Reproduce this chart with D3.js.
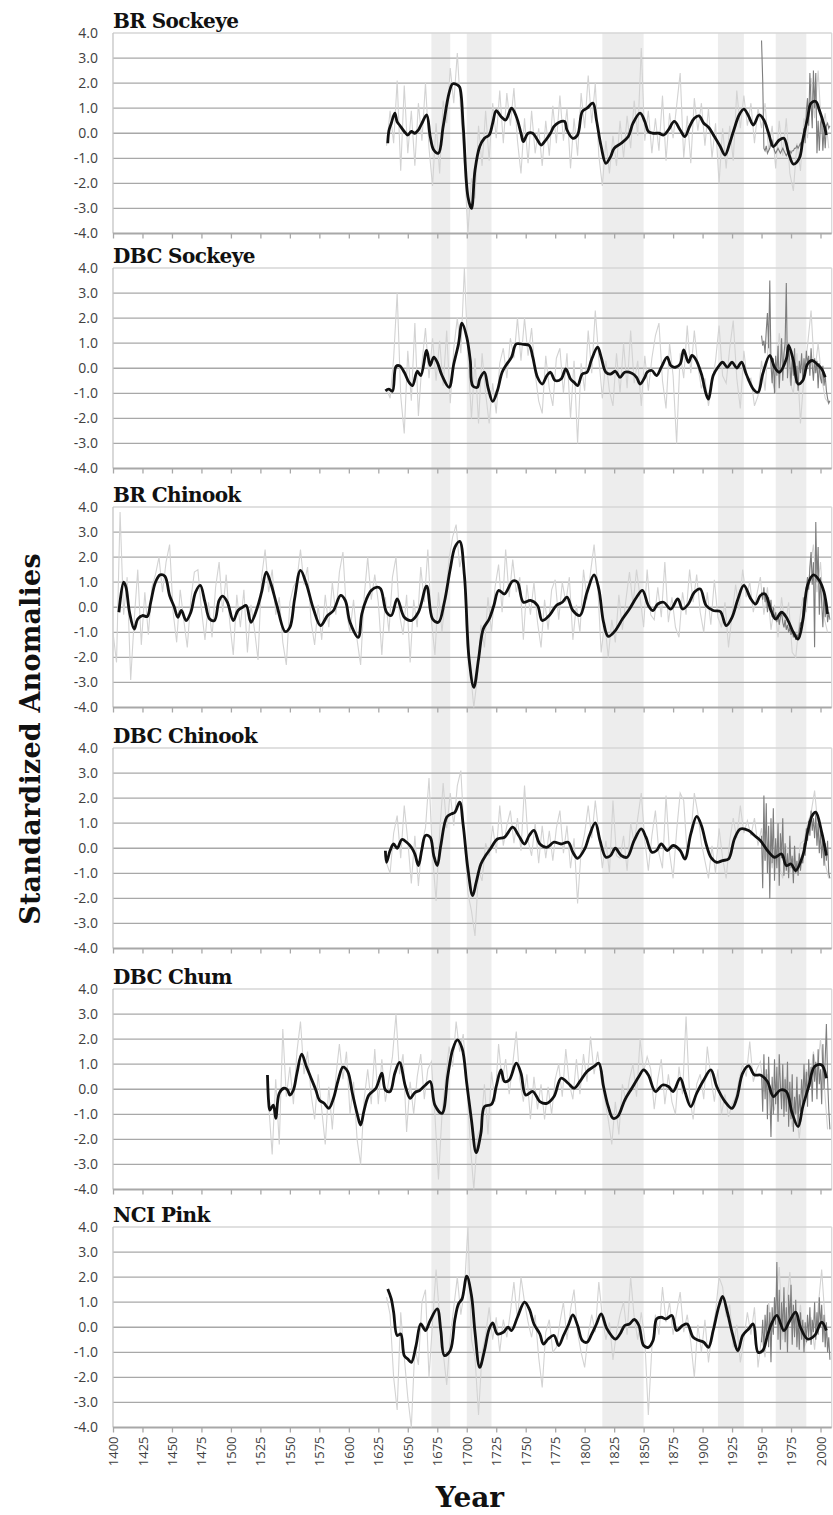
<!DOCTYPE html>
<html><head><meta charset="utf-8">
<script src="https://cdn.jsdelivr.net/npm/d3@7"></script>
<style>body{margin:0;background:#fff}svg{display:block}</style>
</head><body><svg id="c" width="833" height="1515"></svg>
<script>
// ---------- DATA ----------
const panelTitles = ["BR Sockeye","DBC Sockeye","BR Chinook","DBC Chinook","DBC Chum","NCI Pink"];
const yTicks = [4,3,2,1,0,-1,-2,-3,-4];
const xTicks = [1400,1425,1450,1475,1500,1525,1550,1575,1600,1625,1650,1675,1700,1725,1750,1775,1800,1825,1850,1875,1900,1925,1950,1975,2000];
const bandStart = [1670,1700,1815,1913,1962];
const bandEnd   = [1686,1721,1850,1935,1988];

// light grey reconstructions (3-year step)
const rawStep = 3;
const brSockeyeRawStart = 1632;
const brSockeyeRaw = [-0.5,0.9,-0.4,2.1,-1.5,1.9,-0.8,0.9,-1.3,1.2,
 -0.3,2.0,-0.6,-2.1,0.4,-1.6,1.3,0.4,2.6,1.2,
 3.2,0.8,-1.2,-4.0,-1.8,-2.6,0.3,-1.3,0.9,-1.1,
 1.2,-0.2,1.7,-0.4,1.6,0.3,1.8,-0.3,-1.6,0.6,
 -1.2,0.9,-0.8,0.2,-1.3,0.5,-0.9,1.1,-0.4,1.5,
 -0.3,1.0,-1.4,0.6,-0.9,1.6,0.2,2.3,0.4,2.0,
 -0.9,-2.1,-0.3,-1.6,-0.1,-1.3,0.5,-1.0,0.7,-0.6,
 1.3,-0.1,3.4,-0.3,0.9,-0.8,0.6,-0.7,1.5,-1.1,
 0.8,-0.2,1.1,2.4,-1.0,0.7,-1.2,1.4,0.1,1.2,
 -0.5,1.0,-1.0,0.4,-2.0,0.2,-1.4,0.3,-1.1,1.7,
 0.2,1.5,0.3,1.2,-0.4,1.0,0.2,1.2,-0.7,0.3,
 -1.4,0.5,-0.9,0.6,-1.6,-2.3,-0.4,-1.5,0.6,-0.2,
 2.2,0.6,2.5,0.0,0.8,-0.6];
const dbcSockeyeRawStart = 1632;
const dbcSockeyeRaw = [-0.8,-1.2,0.4,3.0,-1.1,-2.6,0.7,-1.3,1.8,-1.9,
 0.2,1.6,-0.4,1.2,-0.5,1.1,-0.7,1.5,-1.4,0.8,
 2.0,0.6,4.0,0.5,-2.0,0.4,-2.2,0.6,-1.0,-2.2,
 -0.6,-1.8,0.2,0.8,-0.4,1.2,0.4,2.0,0.3,2.0,
 0.5,1.6,-0.2,-1.3,-1.8,0.5,-0.8,-1.5,0.4,0.8,
 -1.0,0.6,-2.0,0.3,-3.0,0.2,-0.9,1.5,-0.2,2.3,
 0.4,-1.2,0.3,-0.9,-1.5,0.6,-1.0,1.0,-0.8,1.5,
 -0.6,0.3,-1.5,0.5,-0.9,0.4,1.3,1.8,-0.5,-1.6,
 1.0,-0.3,-3.0,0.6,-0.4,1.7,-0.2,1.5,0.1,-0.8,
 -0.4,-1.5,-0.6,0.3,1.7,-0.3,-0.6,0.8,1.9,-0.4,
 -1.6,0.7,-0.5,-0.4,-1.5,-1.1,0.3,-0.9,1.2,-0.5,
 -1.0,1.4,0.2,1.0,-0.5,-1.0,0.6,-2.2,-0.3,0.9,
 2.3,-0.2,1.0,-0.4,-1.2,-1.4];
const brChinookRawStart = 1400;
const brChinookRaw = [-1.0,-2.2,3.8,-0.3,1.2,-2.9,-0.5,1.5,-1.5,0.6,
 -1.1,0.8,1.3,2.0,0.6,1.8,2.5,-0.2,-1.4,0.7,
 -0.5,-1.6,0.3,1.4,1.5,-0.1,-1.3,0.2,-1.2,0.8,
 1.8,-0.2,1.3,-0.6,-1.9,0.5,-0.8,0.7,-1.8,0.1,
 -0.9,-2.1,1.2,2.3,0.6,1.5,-0.3,0.4,-1.4,-2.3,
 0.2,0.8,1.1,2.3,0.9,1.6,-0.6,-1.5,0.1,-1.3,
 0.5,-0.8,1.0,-0.3,1.4,2.2,-0.2,-1.0,0.3,-1.3,
 -2.3,0.4,2.0,0.3,1.3,0.2,-1.9,0.4,-1.0,1.2,
 2.0,-0.3,-1.1,0.5,-2.2,0.3,-0.8,1.6,0.2,2.3,
 -0.5,-1.9,0.6,-1.0,0.5,1.9,2.8,3.3,1.6,2.2,
 -1.5,-2.5,-4.0,-2.8,-0.7,-1.6,0.4,-1.0,0.8,1.7,
 -0.2,2.3,0.4,1.9,0.6,1.2,-1.3,0.9,-0.3,1.0,
 -0.6,-1.6,0.3,-0.9,0.7,1.1,-0.5,1.0,0.2,1.2,
 -1.3,0.1,-1.0,1.5,0.3,1.4,2.5,0.9,-1.8,-0.6,
 -2.0,-0.5,-1.4,0.5,-0.9,0.3,1.4,0.1,1.5,0.4,
 -0.8,1.5,-0.3,-0.5,0.8,-0.4,1.8,-0.6,0.4,-0.8,
 -1.2,0.6,-0.3,1.5,0.2,1.3,-0.2,-1.0,0.6,-0.7,
 1.1,-0.4,-0.8,0.2,-1.6,-0.3,0.9,-0.1,1.5,0.4,
 1.0,-0.2,0.5,1.2,-0.3,0.8,-0.9,0.1,-1.2,0.4,
 -0.8,0.2,-1.8,-2.0,-0.6,0.4,-0.2,1.5,2.5,0.6,
 1.8,-0.4,-1.0];
const dbcChinookRawStart = 1632;
const dbcChinookRaw = [-0.6,-1.0,0.6,1.3,-0.4,1.7,0.3,-1.4,0.5,-1.5,
 0.2,0.8,2.8,-0.3,-2.1,0.6,2.6,0.8,2.2,0.9,
 2.5,3.1,0.4,-1.8,-2.5,-3.5,-0.9,-1.3,0.2,-0.3,
 0.9,-0.2,1.7,0.1,0.9,1.5,0.2,1.2,-0.1,2.5,
 0.3,-0.3,1.0,-0.6,0.9,-0.4,0.7,-0.5,0.8,1.5,
 -0.2,0.9,-0.8,0.4,-2.2,-0.1,0.6,1.7,0.4,1.9,
 0.6,-0.8,0.3,-1.0,1.9,-0.3,-0.4,0.5,-0.9,1.0,
 0.2,1.2,2.2,0.3,-0.9,0.5,1.5,-0.2,-0.8,2.1,
 -0.2,-1.2,0.7,2.2,1.9,-0.3,0.5,2.2,1.4,0.2,
 -0.5,-1.2,0.1,-1.0,0.8,-0.4,-1.2,0.3,1.2,0.4,
 1.7,0.6,1.1,0.5,1.2,0.1,0.8,-0.5,0.3,-0.8,
 0.2,-0.7,-1.2,0.1,-1.0,-0.4,-1.0,0.2,0.3,1.0,
 1.4,2.3,0.8,0.5,-0.6,-1.2];
const dbcChumRawStart = 1532;
const dbcChumRaw = [-0.6,-2.6,0.4,-2.2,2.4,-0.3,0.9,-0.6,1.5,2.7,
 0.6,1.5,-0.2,-1.2,0.6,-0.8,-2.2,0.1,-1.6,0.5,
 1.8,0.4,1.5,-1.0,0.3,-2.0,-3.0,-0.4,0.8,-0.6,
 1.6,-0.6,1.2,-0.5,0.4,1.3,3.0,0.6,1.4,-1.7,
 0.3,-1.0,0.5,1.4,-0.4,0.8,1.1,-1.0,-3.6,-1.0,
 0.4,1.7,0.9,2.7,1.5,2.2,0.3,-2.2,-4.0,-1.9,
 -1.5,0.2,-1.8,0.7,-0.5,1.8,0.3,1.2,-0.2,1.0,
 2.3,0.4,-0.5,0.6,-1.2,0.5,-0.8,0.2,-1.2,0.1,
 -1.0,0.4,1.0,-0.3,1.6,0.2,-0.4,1.2,-0.2,1.4,
 0.3,2.1,0.6,1.5,0.4,-0.4,-1.2,-2.2,-0.5,-1.8,
 0.2,-0.5,0.4,1.0,-0.3,2.0,0.7,1.3,0.8,-0.8,
 0.4,1.2,-0.6,0.6,-0.5,-1.0,0.9,-0.2,2.9,-0.3,
 -1.2,0.2,0.6,-0.4,1.7,0.5,-0.5,0.8,-1.0,-0.2,
 -1.1,-0.6,-0.3,0.4,1.0,0.5,1.9,0.3,0.8,1.1,
 -0.1,0.6,-0.5,-0.8,0.3,-0.4,0.5,-0.6,-1.5,-0.6,
 -2.0,-0.4,0.8,0.2,1.5,0.5,2.0,0.3,-1.6];
const nciPinkRawStart = 1632;
const nciPinkRaw = [1.2,0.5,-2.0,-3.3,0.6,-1.2,-2.8,-4.0,-0.8,-1.5,
 1.0,1.5,-2.0,0.2,2.3,0.4,-1.0,-2.3,-0.4,0.8,
 2.0,0.5,1.5,4.0,-0.5,-1.2,-3.5,-1.0,-0.3,0.8,
 -0.5,0.4,-1.0,0.3,-0.4,0.6,1.8,0.3,2.0,1.0,
 0.2,-0.4,0.5,-1.2,-2.4,-0.2,0.3,-1.0,-0.8,0.2,
 1.0,-0.5,0.7,1.5,-0.2,-1.0,-1.6,-0.3,0.5,-0.2,
 1.8,0.4,-0.5,0.2,-1.3,-0.2,0.5,1.0,-0.3,2.0,
 0.4,-0.5,0.6,-0.5,-3.5,-0.8,0.5,-0.3,1.6,0.2,
 1.0,-0.3,0.6,1.4,-0.2,0.5,-0.6,-2.0,0.1,-1.0,
 0.3,-1.4,-0.2,0.6,2.0,1.6,0.4,0.9,-0.8,0.1,
 -1.4,-0.5,0.6,-0.3,0.8,-1.6,-0.4,-1.2,1.0,-0.2,
 0.8,2.4,-0.5,0.7,2.2,0.2,-0.3,0.9,-0.8,-0.5,
 0.4,-0.9,0.8,2.3,0.2,-0.8];

// dark grey observed records (annual, 1950-2008)
const obsStart = 1950;
const brSockeyeObs = [3.7,2.1,-0.6,-0.7,-0.5,-0.8,-0.7,-0.6,-0.4,-0.3,
 -0.5,-0.7,-0.8,-0.7,-0.6,-0.7,-0.8,-0.7,-0.6,-0.7,
 -0.8,-0.9,-0.8,-0.8,-0.7,-0.8,-0.7,-0.7,-0.6,-0.6,
 -0.5,-0.6,-0.5,-0.4,-0.6,-0.3,0.2,-0.4,0.9,1.4,
 0.3,2.4,1.2,0.2,2.5,1.0,2.4,-0.8,0.5,-0.7,
 0.4,0.6,-0.7,0.2,-0.6,0.3,0.4,0.2,0.3];
const dbcSockeyeObs = [1.3,0.9,1.1,0.6,1.5,2.2,0.8,3.5,0.2,-0.6,
 0.4,-1.0,0.5,-0.3,0.9,-0.8,0.2,1.2,-0.5,0.6,
 1.0,3.4,-0.4,1.0,0.2,-0.7,0.5,-0.3,0.8,-0.6,
 0.1,-0.9,0.3,-0.2,0.6,-0.5,0.4,-0.2,0.7,0.2,
 0.5,-0.3,0.8,0.1,-0.5,0.4,-0.2,0.3,-0.8,0.2,
 -0.4,-0.6,0.1,-0.7,-0.3,-0.9,-1.2,-1.4,-1.3];
const brChinookObs = [0.6,0.3,0.8,0.2,0.5,-0.2,0.4,-0.1,0.3,-0.4,
 0.0,-0.5,-0.2,-0.6,-0.3,-0.7,-0.4,-0.2,-0.6,-0.8,
 -0.5,-0.9,-0.7,-1.0,-0.8,-1.1,-0.9,-1.2,-1.0,-1.3,
 -1.1,-1.2,-0.9,-0.6,-0.8,-0.2,0.4,0.0,0.8,1.2,
 0.7,1.6,2.2,0.9,1.8,-1.6,3.4,1.0,2.4,-0.3,
 1.2,0.2,-0.8,0.6,-0.4,0.3,-0.6,-0.2,-0.5];
const dbcChinookObs = [0.5,-1.6,2.1,-0.5,1.8,-1.0,0.9,-2.0,1.2,-0.6,
 1.6,-1.3,0.4,-0.8,1.0,-1.5,0.6,-0.4,1.2,-1.1,
 0.2,-0.9,-0.2,-1.2,0.5,-0.8,-0.3,-1.4,0.1,-1.0,
 -0.5,-1.1,-0.2,-0.9,-0.4,-0.6,0.2,-0.3,0.8,0.3,
 1.1,0.5,1.5,0.7,1.2,0.4,1.4,0.1,1.0,-0.2,
 0.7,-0.4,0.4,-0.7,0.2,-0.5,0.3,-1.0,-1.2];
const dbcChumObs = [0.6,-0.9,1.4,-0.4,0.8,-1.2,1.3,-0.2,-1.9,0.5,
 -1.0,1.2,-0.6,0.9,-1.3,1.4,0.2,-0.8,1.0,-1.1,
 0.4,-0.9,1.1,-1.5,0.3,-1.2,0.6,-1.7,-0.3,-1.0,
 0.5,-1.4,-0.2,-0.9,0.4,-0.6,1.0,-0.3,0.7,-0.7,
 1.2,0.1,0.9,-0.5,1.4,0.3,1.1,-0.4,1.6,0.2,
 0.8,-0.6,1.8,0.0,1.2,2.6,0.4,-0.8,-1.6];
const nciPinkObs = [-0.6,0.3,-1.0,0.5,-0.4,0.9,-0.8,0.6,-1.4,0.8,
 -0.3,1.2,0.1,2.6,-0.5,1.5,-0.9,1.0,-0.2,1.6,
 -0.6,0.8,-1.0,1.3,0.2,1.7,-0.7,0.9,-0.4,1.1,
 -0.8,0.4,-0.9,0.6,-0.5,0.3,-1.0,0.2,-0.6,0.5,
 -0.4,0.8,-0.7,0.3,-0.2,1.0,-0.5,0.6,-0.3,1.2,
 0.0,0.9,-0.6,0.5,-0.8,0.2,-1.0,-0.4,-1.3];

// black smoothed reconstructions [year, value]
const brSockeyeSmooth = [[1633,-0.4],[1634,0.1],[1636,0.4],[1639,0.8],[1641,0.45],[1643,0.33],[1647,0.07],[1650,-0.07],[1653,0.07],[1656,0],[1659,0.13],[1662,0.4],[1666,0.73],[1669,-0.13],[1672,-0.67],[1676,-0.8],[1680,0.27],[1685,1.6],[1688,1.97],[1692,1.93],[1694,1.84],[1697,0.27],[1701,-2.53],[1704,-3.0],[1707,-1.47],[1711,-0.53],[1715,-0.2],[1719,-0.07],[1722,0.4],[1725,0.9],[1729,0.67],[1733,0.53],[1738,1.0],[1742,0.67],[1746,0],[1748,-0.33],[1752,0],[1756,0],[1760,-0.27],[1763,-0.47],[1767,-0.27],[1771,0],[1774,0.27],[1778,0.43],[1783,0.47],[1785,0.13],[1790,-0.2],[1794,-0.07],[1798,0.87],[1802,1.0],[1807,1.2],[1810,0.53],[1814,-0.53],[1818,-1.2],[1822,-0.93],[1825,-0.6],[1831,-0.4],[1837,-0.13],[1841,0.4],[1847,0.8],[1851,0.47],[1854,0.07],[1858,0],[1863,0],[1867,-0.07],[1871,0.13],[1876,0.47],[1881,0.13],[1885,-0.13],[1889,0.27],[1893,0.6],[1897,0.69],[1901,0.4],[1905,0.24],[1910,-0.13],[1915,-0.53],[1919,-0.87],[1923,-0.4],[1927,0.2],[1931,0.73],[1935,0.96],[1939,0.69],[1943,0.33],[1948,0.73],[1952,0.53],[1956,0],[1960,-0.53],[1965,-0.27],[1969,-0.2],[1973,-0.8],[1977,-1.23],[1982,-1.0],[1985,-0.27],[1989,0.6],[1992,1.2],[1996,1.27],[1999,0.93],[2003,0.33],[2005,-0.07]];
const dbcSockeyeSmooth = [[1631,-0.9],[1634,-0.83],[1637,-0.92],[1640,0.07],[1643,0.1],[1647,-0.16],[1651,-0.56],[1654,-0.69],[1658,-0.12],[1661,-0.29],[1666,0.71],[1669,0.11],[1672,0.44],[1675,0.24],[1679,-0.29],[1685,-0.76],[1689,0.17],[1693,0.97],[1696,1.8],[1700,1.24],[1703,0.31],[1705,-0.69],[1709,-0.76],[1711,-0.43],[1715,-0.16],[1718,-0.76],[1722,-1.32],[1726,-0.89],[1730,-0.16],[1734,0.17],[1738,0.44],[1742,0.97],[1748,0.95],[1753,0.91],[1756,0.44],[1760,-0.36],[1764,-0.63],[1768,-0.29],[1771,-0.16],[1775,-0.49],[1780,-0.43],[1784,-0.03],[1788,-0.43],[1791,-0.56],[1794,-0.69],[1798,-0.23],[1802,-0.16],[1806,0.37],[1811,0.84],[1814,0.44],[1818,-0.16],[1822,-0.23],[1826,-0.12],[1830,-0.36],[1834,-0.16],[1840,-0.2],[1844,-0.36],[1847,-0.63],[1851,-0.36],[1853,-0.16],[1857,-0.09],[1861,-0.29],[1865,0.04],[1870,0.44],[1873,0.11],[1877,0.04],[1881,0.17],[1884,0.73],[1888,0.24],[1891,0.51],[1894,0.37],[1899,-0.23],[1903,-1.03],[1905,-1.23],[1909,-0.29],[1913,0.04],[1917,0.24],[1921,0.04],[1925,0.24],[1929,0.01],[1933,0.24],[1937,-0.23],[1943,-0.83],[1947,-0.96],[1951,-0.23],[1957,0.51],[1961,0.04],[1965,-0.16],[1971,0.37],[1973,0.91],[1977,0.31],[1981,-0.63],[1985,-0.49],[1989,0.17],[1993,0.31],[1997,0.17],[2001,-0.03],[2004,-0.36]];
const brChinookSmooth = [[1405,-0.2],[1409,1.0],[1411,0.8],[1414,-0.2],[1418,-0.87],[1421,-0.47],[1425,-0.33],[1429,-0.37],[1432,0.2],[1436,1.0],[1440,1.29],[1444,1.24],[1448,0.47],[1452,0],[1455,-0.4],[1458,-0.13],[1462,-0.53],[1466,-0.2],[1470,0.6],[1474,0.87],[1478,0.2],[1482,-0.47],[1486,-0.53],[1490,0.27],[1493,0.44],[1497,0.2],[1502,-0.53],[1506,-0.13],[1510,0],[1513,0.07],[1517,-0.6],[1522,-0.07],[1526,0.6],[1530,1.4],[1534,0.93],[1539,0.07],[1546,-0.97],[1550,-0.8],[1554,0.33],[1559,1.47],[1564,0.93],[1570,-0.07],[1576,-0.73],[1582,-0.33],[1587,-0.13],[1593,0.47],[1597,0.27],[1601,-0.6],[1608,-1.2],[1611,-0.27],[1615,0.33],[1619,0.67],[1624,0.8],[1627,0.73],[1632,-0.2],[1636,-0.33],[1641,0.33],[1647,-0.4],[1653,-0.53],[1659,-0.2],[1666,0.84],[1671,-0.47],[1676,-0.6],[1681,0.2],[1686,1.53],[1690,2.4],[1694,2.63],[1698,1.27],[1702,-2.07],[1706,-3.2],[1710,-2.07],[1714,-0.87],[1719,-0.47],[1723,0.07],[1727,0.67],[1732,0.53],[1739,1.05],[1743,1.0],[1748,0.2],[1754,0.27],[1760,0.07],[1764,-0.53],[1770,-0.33],[1776,0.07],[1781,0.2],[1785,0.4],[1790,-0.13],[1796,-0.33],[1802,0.6],[1808,1.29],[1812,0.73],[1816,-0.6],[1820,-1.16],[1826,-0.93],[1832,-0.47],[1838,-0.07],[1844,0.4],[1849,0.67],[1854,0.07],[1858,-0.13],[1862,0.13],[1867,0.2],[1873,-0.07],[1879,0.33],[1883,-0.07],[1888,0.13],[1893,0.6],[1898,0.73],[1903,0.07],[1909,-0.13],[1915,-0.17],[1920,-0.73],[1925,-0.4],[1930,0.33],[1935,0.87],[1941,0.33],[1945,0.13],[1949,0.47],[1953,0.53],[1958,-0.13],[1962,-0.47],[1967,-0.2],[1971,-0.4],[1977,-1.0],[1981,-1.27],[1985,-0.53],[1989,0.87],[1994,1.29],[1999,1.07],[2003,0.6],[2006,-0.27]];
const dbcChinookSmooth = [[1631,-0.1],[1632,-0.56],[1635,-0.09],[1638,0.17],[1641,0],[1645,0.35],[1649,0.24],[1653,0.04],[1656,-0.23],[1659,-0.69],[1662,-0.03],[1665,0.51],[1669,0.44],[1672,-0.29],[1675,-0.69],[1678,0.11],[1683,1.24],[1687,1.37],[1690,1.44],[1694,1.84],[1697,0.91],[1701,-0.83],[1705,-1.89],[1708,-1.36],[1712,-0.63],[1716,-0.29],[1720,-0.03],[1726,0.37],[1732,0.44],[1739,0.84],[1744,0.51],[1749,0.17],[1753,0.51],[1757,0.71],[1762,0.17],[1768,0.04],[1774,0.24],[1780,0.17],[1786,0.24],[1790,-0.16],[1794,-0.4],[1800,-0.03],[1804,0.51],[1809,1.01],[1813,0.31],[1818,-0.36],[1822,-0.29],[1826,0],[1831,-0.29],[1836,-0.36],[1842,0.31],[1848,0.77],[1852,0.44],[1857,-0.16],[1861,-0.09],[1865,0.17],[1870,-0.09],[1875,0.11],[1881,-0.09],[1885,-0.43],[1890,0.57],[1895,1.27],[1899,0.91],[1903,0.17],[1907,-0.36],[1912,-0.56],[1917,-0.49],[1922,-0.43],[1927,0.37],[1932,0.77],[1939,0.71],[1944,0.51],[1949,0.31],[1955,-0.09],[1961,-0.36],[1967,-0.23],[1971,-0.69],[1975,-0.63],[1979,-0.89],[1985,-0.29],[1989,0.64],[1993,1.31],[1996,1.44],[2001,0.64],[2005,-0.29]];
const dbcChumSmooth = [[1531,0.57],[1532,-0.5],[1533,-0.83],[1536,-0.63],[1538,-1.16],[1541,-0.16],[1545,0.04],[1548,-0.03],[1550,-0.23],[1553,-0.03],[1556,0.64],[1560,1.4],[1564,0.91],[1568,0.44],[1572,-0.03],[1575,-0.43],[1579,-0.56],[1583,-0.76],[1587,-0.36],[1591,0.37],[1595,0.88],[1599,0.71],[1603,-0.16],[1607,-0.96],[1610,-1.43],[1613,-0.83],[1617,-0.23],[1623,0.04],[1628,0.64],[1631,-0.03],[1635,-0.09],[1639,0.64],[1643,1.07],[1648,0.11],[1652,-0.36],[1656,-0.13],[1660,-0.05],[1665,0.17],[1669,0.31],[1673,-0.63],[1679,-0.96],[1684,0.57],[1688,1.57],[1692,1.97],[1696,1.64],[1700,0.24],[1704,-1.23],[1708,-2.53],[1712,-1.76],[1715,-0.69],[1721,-0.6],[1725,0.11],[1729,0.77],[1732,0.31],[1736,0.37],[1742,1.04],[1746,0.64],[1750,-0.23],[1756,-0.09],[1762,-0.49],[1768,-0.56],[1774,-0.29],[1780,0.44],[1786,0.24],[1791,0.04],[1796,0.31],[1802,0.71],[1808,0.91],[1812,1.04],[1816,0.11],[1820,-0.69],[1824,-1.16],[1828,-1.09],[1834,-0.43],[1840,0.04],[1846,0.51],[1850,0.77],[1854,0.57],[1860,-0.09],[1866,0.17],[1871,0.11],[1875,-0.09],[1881,0.44],[1885,-0.09],[1890,-0.69],[1895,-0.16],[1901,0.37],[1907,0.77],[1912,0.11],[1919,-0.49],[1925,-0.76],[1929,-0.36],[1934,0.64],[1939,0.93],[1944,0.57],[1949,0.57],[1955,0.31],[1960,-0.29],[1966,-0.03],[1971,-0.09],[1976,-0.96],[1981,-1.49],[1985,-0.69],[1990,0.11],[1995,0.91],[2001,0.97],[2005,0.44]];
const nciPinkSmooth = [[1633,1.53],[1636,1.13],[1638,0.6],[1641,-0.33],[1644,-0.27],[1647,-1.13],[1650,-1.27],[1653,-1.4],[1657,-0.73],[1661,0.13],[1665,-0.13],[1669,0.27],[1675,0.73],[1678,-0.13],[1681,-1.13],[1686,-0.93],[1690,0.33],[1693,0.93],[1696,1.13],[1700,2.04],[1704,1.27],[1707,-0.2],[1711,-1.6],[1715,-0.93],[1719,-0.07],[1722,0.17],[1726,-0.27],[1731,-0.2],[1735,0],[1738,-0.13],[1743,0.4],[1749,1.0],[1753,0.73],[1757,0.13],[1762,-0.27],[1765,-0.67],[1769,-0.47],[1774,-0.33],[1778,-0.73],[1782,-0.33],[1786,0.07],[1790,0.49],[1794,0.07],[1798,-0.53],[1802,-0.6],[1806,-0.27],[1810,0.13],[1814,0.53],[1819,-0.07],[1826,-0.47],[1830,-0.27],[1834,0.07],[1838,0.13],[1842,0.31],[1846,0.07],[1850,-0.73],[1854,-0.8],[1858,-0.53],[1861,0.33],[1865,0.4],[1869,0.33],[1874,0.47],[1878,-0.13],[1883,0.07],[1887,0.13],[1892,-0.4],[1897,-0.53],[1901,-0.6],[1905,-0.8],[1909,-0.13],[1914,0.87],[1917,1.23],[1921,0.6],[1925,-0.2],[1930,-0.93],[1934,-0.33],[1939,-0.07],[1943,0.13],[1947,-1.0],[1951,-0.93],[1955,-0.33],[1959,0.2],[1963,0.47],[1969,-0.13],[1974,0.27],[1979,0.6],[1983,0],[1989,-0.47],[1995,-0.33],[2001,0.2],[2005,-0.13]];

// ---------- LAYOUT ----------
const panels = [
  {raw: brSockeyeRaw,  rawStart: brSockeyeRawStart,  obs: brSockeyeObs,  smooth: brSockeyeSmooth},
  {raw: dbcSockeyeRaw, rawStart: dbcSockeyeRawStart, obs: dbcSockeyeObs, smooth: dbcSockeyeSmooth},
  {raw: brChinookRaw,  rawStart: brChinookRawStart,  obs: brChinookObs,  smooth: brChinookSmooth},
  {raw: dbcChinookRaw, rawStart: dbcChinookRawStart, obs: dbcChinookObs, smooth: dbcChinookSmooth},
  {raw: dbcChumRaw,    rawStart: dbcChumRawStart,    obs: dbcChumObs,    smooth: dbcChumSmooth},
  {raw: nciPinkRaw,    rawStart: nciPinkRawStart,    obs: nciPinkObs,    smooth: nciPinkSmooth}
];
const panelTop = [33, 268, 507, 748, 989, 1227];
const plotH = 200.5;
const X0 = 113, X1 = 831.7;

const svg = d3.select("#c");
const x = d3.scaleLinear().domain([1400, 2009.5]).range([X0, X1]);

// shaded bands spanning all panels
svg.append("g").selectAll("rect").data(bandStart).join("rect")
  .attr("x", (d) => x(d))
  .attr("width", (d, i) => x(bandEnd[i]) - x(d))
  .attr("y", panelTop[0])
  .attr("height", panelTop[5] + plotH - panelTop[0])
  .attr("fill", "#ededed");

const sans = "'Open Sans', 'Liberation Sans', sans-serif";
const serif = "'DejaVu Serif', 'Liberation Serif', serif";

panels.forEach((p, i) => {
  const top = panelTop[i];
  const y = d3.scaleLinear().domain([-4, 4]).range([top + plotH, top]);
  const g = svg.append("g");

  // horizontal gridlines
  g.selectAll("line.grid").data(yTicks.filter(v => v > -4 && v < 4)).join("line")
    .attr("x1", X0).attr("x2", X1)
    .attr("y1", d => y(d)).attr("y2", d => y(d))
    .attr("stroke", "#a8a8a8").attr("stroke-width", 1.3);
  // top border
  g.append("line").attr("x1", X0).attr("x2", X1).attr("y1", y(4)).attr("y2", y(4))
    .attr("stroke", "#d6d6d6").attr("stroke-width", 1.3);
  // right border
  g.append("line").attr("x1", X1).attr("x2", X1).attr("y1", y(4)).attr("y2", y(-4))
    .attr("stroke", "#d6d6d6").attr("stroke-width", 1.2);
  // left axis line
  g.append("line").attr("x1", X0).attr("x2", X0).attr("y1", y(4)).attr("y2", y(-4))
    .attr("stroke", "#c4c4c4").attr("stroke-width", 1.3);

  // y axis labels
  const ya = g.append("g").attr("transform", `translate(${X0},0)`)
    .call(d3.axisLeft(y).tickValues(yTicks).tickSize(0).tickPadding(15).tickFormat(d => d.toFixed(1)));
  ya.select(".domain").remove();
  ya.selectAll("text").attr("fill", "#404040").style("font-family", sans).style("font-size", "14px");

  // bottom axis
  const xa = g.append("g").attr("transform", `translate(0,${y(-4)})`)
    .call(d3.axisBottom(x).tickValues(xTicks).tickSize(5).tickSizeOuter(0)
      .tickFormat(i === panels.length - 1 ? (d => String(d)) : () => ""));
  xa.select(".domain").attr("stroke", "#a8a8a8").attr("stroke-width", 2)
    .attr("d", `M${X0},0H${X1}`);
  xa.selectAll(".tick line").attr("stroke", "#a8a8a8").attr("stroke-width", 1.3);
  xa.selectAll("text")
    .attr("y", 0).attr("x", -9).attr("dy", "0.35em")
    .attr("transform", "rotate(-90)")
    .style("text-anchor", "end")
    .attr("fill", "#404040").style("font-family", sans).style("font-size", "13px");

  const line = d3.line().x(d => x(d[0])).y(d => y(d[1]));
  const smoothLine = d3.line().x(d => x(d[0])).y(d => y(d[1])).curve(d3.curveCatmullRom.alpha(0.5));
  const rawPts = p.raw.map((v, k) => [p.rawStart + k * rawStep, v]);
  const obsPts = p.obs.map((v, k) => [obsStart + k, v]);

  g.append("path").datum(rawPts).attr("d", line)
    .attr("fill", "none").attr("stroke", "#d3d3d3").attr("stroke-width", 1.1);
  g.append("path").datum(obsPts).attr("d", line)
    .attr("fill", "none").attr("stroke", "#7d7d7d").attr("stroke-width", 1.1);
  g.append("path").datum(p.smooth).attr("d", smoothLine)
    .attr("fill", "none").attr("stroke", "#111").attr("stroke-width", 2.8)
    .attr("stroke-linejoin", "round");

  // title
  svg.append("text").attr("x", X0).attr("y", top - 5)
    .text(panelTitles[i])
    .style("font-family", serif).style("font-weight", "bold").style("font-size", "20px")
    .style("letter-spacing", "-0.6px").attr("fill", "#111");
});

// axis titles
svg.append("text")
  .attr("transform", "translate(40,739) rotate(-90)")
  .attr("text-anchor", "middle")
  .text("Standardized Anomalies")
  .style("font-family", serif).style("font-weight", "bold").style("font-size", "27px")
  .style("letter-spacing", "0.2px").attr("fill", "#111");
svg.append("text")
  .attr("x", 470).attr("y", 1507).attr("text-anchor", "middle")
  .text("Year")
  .style("font-family", serif).style("font-weight", "bold").style("font-size", "28px").attr("fill", "#111");
</script>
</body></html>
